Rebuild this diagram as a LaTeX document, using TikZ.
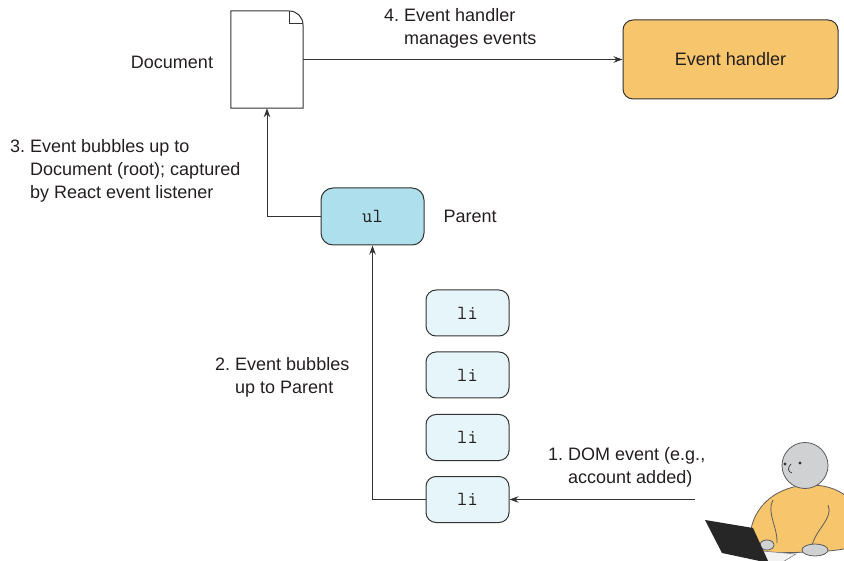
\documentclass[tikz,border=0pt]{standalone}
\usepackage{fontspec}
\setmainfont{Liberation Sans}
\usetikzlibrary{arrows.meta}

\definecolor{handlerfill}{HTML}{F6C56C}
\definecolor{ulfill}{HTML}{AEDFEC}
\definecolor{lifill}{HTML}{E6F5FA}
\definecolor{edge}{HTML}{333333}
\definecolor{skin}{HTML}{D0D1D3}
\definecolor{ink}{HTML}{231F20}

\begin{document}
\begin{tikzpicture}[x=1pt,y=-1pt,>={Stealth[length=9pt,width=6.5pt]},
    every node/.style={text=ink,font=\fontsize{18}{23}\selectfont},
    box/.style={draw=edge,line width=1pt,rounded corners=10pt},
    code/.style={font=\ttfamily\fontsize{20}{22}\selectfont},
    note/.style={align=left,inner sep=0pt,anchor=west},
    wire/.style={draw=edge,line width=1pt}]
  \useasboundingbox (0,0) rectangle (844,561);

  % boxes
  \node[minimum width=72pt,minimum height=97pt,inner sep=0pt] (doc) at (267,59.5) {};
  \node[box,fill=handlerfill,minimum width=215pt,minimum height=79pt] (handler) at (730.5,59.5) {Event handler};
  \node[box,code,fill=ulfill,minimum width=103pt,minimum height=57pt,rounded corners=12pt] (ul) at (372.5,216.5) {ul};
  \foreach \i/\y in {1/313,2/375,3/437.5,4/499.5}
    \node[box,code,fill=lifill,minimum width=83pt,minimum height=46pt] (li\i) at (467.5,\y) {li};

  % document sheet with folded corner
  \draw[wire,fill=white] (doc.north west) -- (289,11) .. controls (297,11) and (303,17) .. (303,25)
    -- (doc.south east) -- (doc.south west) -- cycle;
  \draw[wire] (289,11) -- (289,24) -- (303,24);

  % labels
  \node at (172,62) {Document};
  \node[anchor=west] at (440,216) {Parent};
  \node[note] (step4) at (384,28) {\begin{tabular}{@{}l@{\ }l@{}}4.&Event handler\\&manages events\end{tabular}};
  \node[note] (step3) at (10,171) {\begin{tabular}{@{}l@{\ }l@{}}3.&Event bubbles up to\\&Document (root); captured\\&by React event listener\end{tabular}};
  \node[note] (step2) at (215,377) {\begin{tabular}{@{}l@{\ }l@{}}2.&Event bubbles\\&up to Parent\end{tabular}};
  \node[note] (step1) at (548,467) {\begin{tabular}{@{}l@{\ }l@{}}1.&DOM event (e.g.,\\&account added)\end{tabular}};

  % event path
  \coordinate (user) at (695,499.5);
  \draw[wire,->] (user) -- (li4.east);
  \draw[wire,->] (li4.west) -| (ul.south);
  \draw[wire,->] (ul.west) -| (doc.south);
  \draw[wire,->] (doc.east) -- (handler.west);

  % user at a laptop
  \draw[draw=edge!80,line width=0.8pt,fill=handlerfill] (750,552) .. controls (745,505) and (780,485) .. (810,485)
    .. controls (830,485) and (842,492) .. (848,498) -- (848,548) .. controls (830,553) and (780,553) .. (750,552) -- cycle;
  \draw[draw=edge!80,line width=0.8pt] (773,500) .. controls (766,512) and (778,528) .. (777,543);
  \draw[draw=edge!80,line width=0.8pt] (828,505) .. controls (834,518) and (815,530) .. (812,546);
  \draw[draw=edge!80,line width=0.8pt,fill=skin] (767,545) ellipse[x radius=7,y radius=5];
  \draw[draw=edge!80,line width=0.8pt,fill=skin] (815,550) ellipse[x radius=13,y radius=6];
  \draw[draw=edge!80,line width=0.8pt,fill=skin] (805,465.5) circle[radius=23];
  \fill[edge] (785,464) circle[radius=1.6] (800,463) circle[radius=1.6];
  \draw[edge,line width=0.7pt] (791,464) .. controls (787,468) and (788,472) .. (792,473);
  \draw[draw=gray,line width=0.6pt,fill=gray!10] (762,551) -- (796,554) -- (781,563) -- (768,563) -- cycle;
  \fill[black!85] (705,520) -- (753,528) -- (769,563) -- (722,553) -- cycle;
\end{tikzpicture}
\end{document}
